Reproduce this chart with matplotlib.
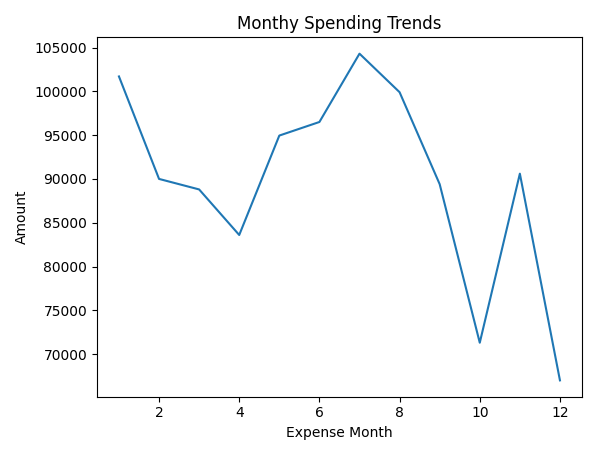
import matplotlib
matplotlib.use('Agg')
import matplotlib.pyplot as plt

# monthly totals
months = [1, 2, 3, 4, 5, 6, 7, 8, 9, 10, 11, 12]
amounts = [101700, 90000, 88800, 83600, 94950, 96500, 104300, 99900, 89400, 71300, 90600, 67000]

fig, ax = plt.subplots(figsize=(5.97, 4.55), dpi=100)
ax.plot(months, amounts)
ax.set_title('Monthy Spending Trends')
ax.set_xlabel('Expense Month')
ax.set_ylabel('Amount')
plt.tight_layout()
plt.savefig('out.png', dpi=100)
